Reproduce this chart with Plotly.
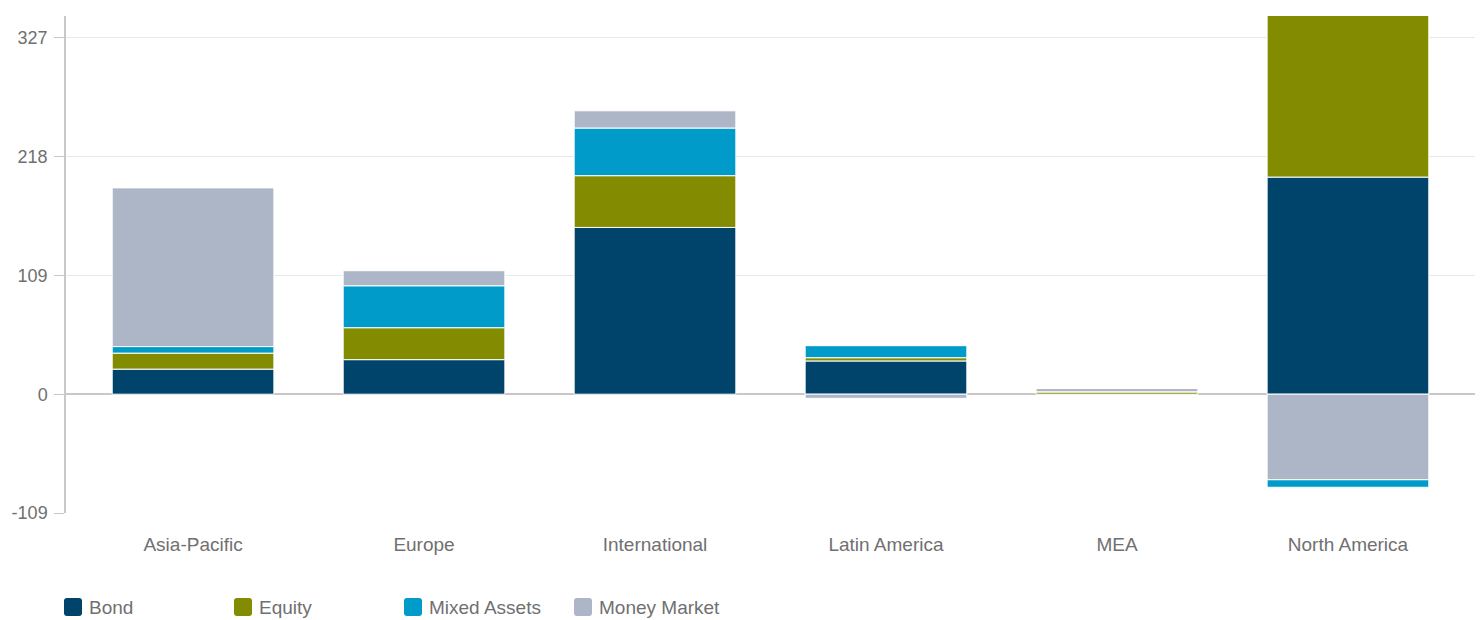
import numpy as np
import plotly.graph_objects as go

# Regions and flow values by asset class
regions = ["Asia-Pacific", "Europe", "International", "Latin America", "MEA", "North America"]
series_names = ["Bond", "Equity", "Mixed Assets", "Money Market"]
bond = [23.0, 31.7, 153.0, 30.5, 0.0, 199.2]
equity = [14.7, 29.3, 47.5, 3.0, 2.2, 152.0]
mixed_assets = [6.0, 38.5, 43.7, 11.0, 0.0, -7.0]
money_market = [145.6, 13.8, 15.8, -3.8, 3.0, -78.4]
colors = ["#00436b", "#838c00", "#009bc9", "#adb6c7"]
y_ticks = [-109, 0, 109, 218, 327]

values = np.array([bond, equity, mixed_assets, money_market])

# Positive parts stack upward in series order; negative parts stack downward
# starting from the last series.
pos = np.clip(values, 0, None)
neg = np.clip(values, None, 0)
pos_base = np.vstack([np.zeros(len(regions)), np.cumsum(pos, axis=0)[:-1]])
neg_cum_rev = np.cumsum(neg[::-1], axis=0)[::-1]
neg_base = np.vstack([neg_cum_rev[1:], np.zeros(len(regions))])

fig = go.Figure()
for i, name in enumerate(series_names):
    v = values[i]
    base = np.where(v >= 0, pos_base[i], neg_base[i])
    fig.add_trace(go.Bar(
        x=regions, y=v, base=base, name=name,
        marker=dict(color=colors[i], line=dict(color="white", width=1)),
        width=0.7, showlegend=False,
    ))

font_family = "Arial, Liberation Sans, sans-serif"
text_color = "#707070"

fig.update_layout(
    width=1483, height=620,
    margin=dict(l=66, r=8, t=16, b=107),
    paper_bgcolor="white", plot_bgcolor="white",
    barmode="overlay",
    font=dict(family=font_family, size=19, color=text_color),
    xaxis=dict(
        range=[-0.55, 5.55], showgrid=False, showline=False, zeroline=False,
        ticks="", ticklabelstandoff=18,
        tickfont=dict(size=19, color=text_color),
    ),
    yaxis=dict(
        range=[-109, 347], tickvals=y_ticks, ticktext=[str(t) for t in y_ticks],
        showgrid=True, gridcolor="#e8e8e8", gridwidth=1,
        zeroline=True, zerolinecolor="#c8c8c8", zerolinewidth=1.5,
        showline=True, linecolor="#c8c8c8", linewidth=1.5,
        ticks="outside", ticklen=10, tickcolor="#c8c8c8", tickwidth=1,
        ticklabelstandoff=3,
        tickfont=dict(size=18, color=text_color),
    ),
)

# Legend row below the plot: rounded colour swatches with labels
legend_x0 = 64
legend_step = 170
legend_cy = 607
plot_left, plot_right = 66, 1475
plot_top, plot_bottom = 16, 513
for i, name in enumerate(series_names):
    px = legend_x0 + i * legend_step
    ax = (px - plot_left) / (plot_right - plot_left)
    ay = (plot_bottom - legend_cy) / (plot_bottom - plot_top)
    s, r = 18, 3
    path = (f"M {r},{-s/2} L {s-r},{-s/2} Q {s},{-s/2} {s},{-s/2+r} "
            f"L {s},{s/2-r} Q {s},{s/2} {s-r},{s/2} L {r},{s/2} "
            f"Q 0,{s/2} 0,{s/2-r} L 0,{-s/2+r} Q 0,{-s/2} {r},{-s/2} Z")
    fig.add_shape(
        type="path", xref="paper", yref="paper",
        xsizemode="pixel", ysizemode="pixel", xanchor=ax, yanchor=ay,
        path=path, fillcolor=colors[i], line=dict(width=0),
    )
    fig.add_annotation(
        xref="paper", yref="paper", x=ax, y=ay, xshift=s + 5,
        text=name, showarrow=False, xanchor="left", yanchor="middle",
        font=dict(family=font_family, size=19, color=text_color),
    )

fig.write_html("out.html")
